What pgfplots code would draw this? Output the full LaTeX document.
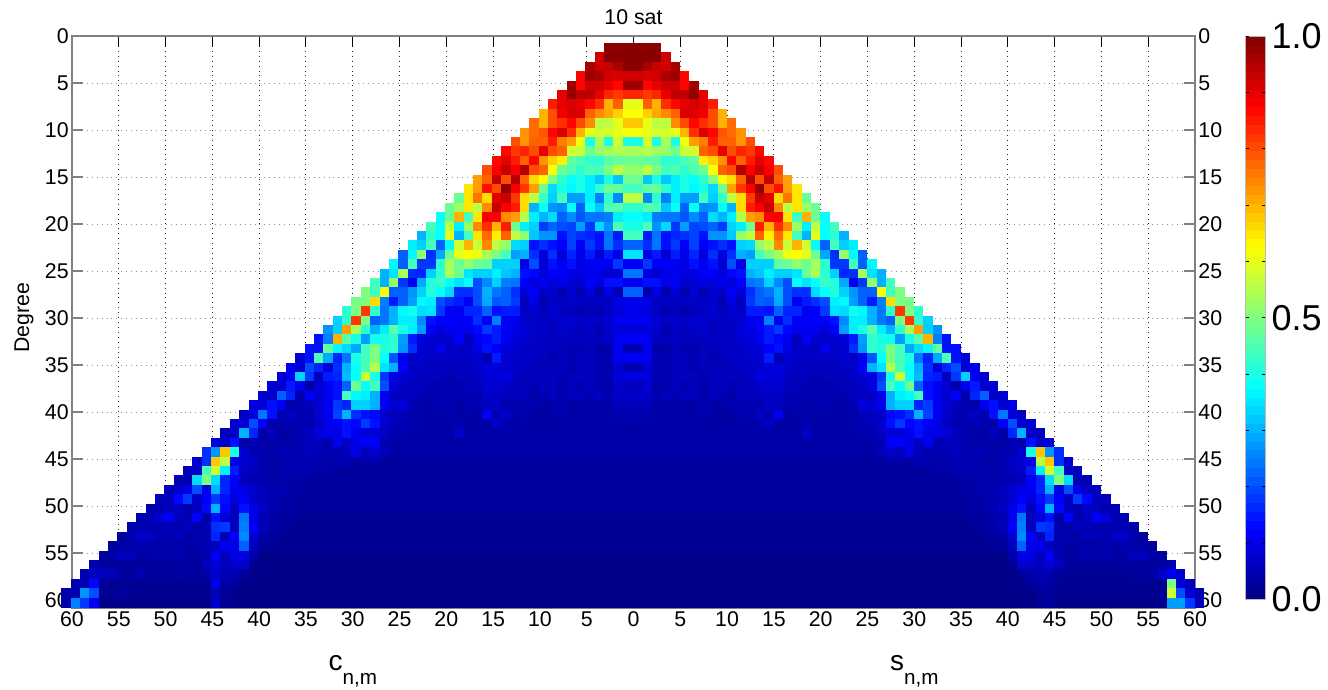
\documentclass[border=0pt]{standalone}
\usepackage{fontspec}
\setmainfont{Liberation Sans}
\usepackage{pgfplots}
\pgfplotsset{compat=1.18}
\newcount\kk
% one row of cells: sign, degree n, values from the outer edge inward (percent of scale), value of the remaining inner cells
\newcommand\onerow[4]{%
  \kk=\numexpr#2+2\relax\ifnum\kk>61 \kk=61 \fi
  \def\rowc{}%
  \pgfplotsforeachungrouped \cv in {#3}{%
    \advance\kk by -1
    \ifnum\kk<0 \else\edef\rowc{\rowc (#1\the\kk.5,#2.25) [\cv]}\fi}%
  \loop\ifnum\kk>0 \advance\kk by -1 \edef\rowc{\rowc (#1\the\kk.5,#2.25) [#4]}\repeat
  \edef\temp{\noexpand\addplot[cellstyle] coordinates {\rowc};}\temp}
\newcommand\R[3]{\onerow{-}{#1}{#2}{#3}\onerow{}{#1}{#2}{#3}}
\pgfplotsset{
  cellstyle/.style={forget plot,scatter,only marks,mark=square*,mark size=3.54pt,
    line width=0.1pt,point meta=explicit,
    scatter/use mapped color={draw=mapped color,fill=mapped color}},
  geom/.style={scale only axis,width=842.25pt,height=429pt,at={(54pt,60.75pt)},anchor=south west,
    xmin=-60,xmax=60,ymin=0,ymax=60.85,y dir=reverse},
}
\begin{document}
\begin{tikzpicture}
\path[use as bounding box] (0,0) rectangle (996pt,516.75pt);
\begin{axis}[geom,clip=false,
  xtick={-60,-55,...,60},
  xticklabels={60,55,50,45,40,35,30,25,20,15,10,5,0,5,10,15,20,25,30,35,40,45,50,55,60},
  ytick={0,5,...,60},
  yticklabels={0,5,10,15,20,25,30,35,40,45,50,55,60},
  tick align=inside,
  major tick length=8.5pt,
  xticklabel pos=lower,
  yticklabel pos=left,
  x tick style={black,line width=.7pt},
  y tick style={gray,line width=1pt},
  axis line style={gray,line width=.9pt},
  xmajorgrids,ymajorgrids,
  x grid style={black!85,line width=.7pt,dash pattern=on .7pt off 3pt},
  y grid style={gray!85,line width=.7pt,dash pattern=on .7pt off 3pt},
  tick label style={font=\fontsize{16}{16}\selectfont},
  xticklabel style={anchor=north,text height=11.5pt,text depth=0pt,yshift=1.5pt},
  yticklabel style={xshift=1pt},
  title={10 sat},
  title style={font=\fontsize{16}{16}\selectfont,at={(0.5,1)},anchor=south,yshift=-1pt},
  ylabel={Degree},
  every axis y label/.style={at={(rel axis cs:0,0.507)},rotate=90,anchor=center,yshift=36pt,font=\fontsize{16}{16}\selectfont},
]
\node[anchor=base west,inner sep=0pt] at (axis cs:-32.6,67.55) {\fontsize{21}{21}\selectfont c\raisebox{-10.5pt}{\fontsize{15.5}{15.5}\selectfont n,m}};
\node[anchor=base west,inner sep=0pt] at (axis cs:27.4,67.55) {\fontsize{21}{21}\selectfont s\raisebox{-10.5pt}{\fontsize{15.5}{15.5}\selectfont n,m}};
\end{axis}
\begin{axis}[geom,clip=false,xtick=\empty,
  ytick={0,5,...,60},
  yticklabels={0,5,10,15,20,25,30,35,40,45,50,55,60},
  yticklabel pos=right,
  major tick length=0pt,
  axis line style={draw=none},
  tick label style={font=\fontsize{16}{16}\selectfont},
  yticklabel style={xshift=-1pt},
]
\end{axis}
\begin{axis}[geom,at={(53.1pt,60.75pt)},clip=false,xtick=\empty,ytick=\empty,
  axis line style={draw=none},
  colormap/jet,point meta min=0,point meta max=100,
  colorbar sampled,
  colorbar style={samples=65,
    at={(parent axis.north east)},anchor=north west,xshift=30.1pt,
    width=15.2pt,height=422.5pt,
    ytick={0,50,100},yticklabels={0.0,0.5,1.0},
    minor ytick={10,20,30,40,60,70,80,90},
    y dir=normal,
    axis line style={draw=gray!55,line width=.7pt},
    tick align=inside,
    major tick length=3pt,minor tick length=3pt,
    every tick/.style={black,line width=.5pt},
    yticklabel style={font=\fontsize{27}{27}\selectfont,xshift=1pt},
  },
]
\R{1}{99,99,99}{99}
\R{2}{92,99,99,99}{99}
\R{3}{96,92,93,96,99}{99}
\R{4}{87,97,96,92,91,92}{92}
\R{5}{97,87,92,92,90,87,97}{97}
\R{6}{90,98,94,94,90,84,82,84}{84}
\R{7}{85,90,91,90,87,83,70,78,60}{60}
\R{8}{70,80,89,91,91,78,74,71,67,62}{62}
\R{9}{77,70,80,83,87,80,74,56,56,60,68}{68}
\R{10}{73,77,79,87,91,83,70,60,58,58,60,62}{62}
\R{11}{80,73,78,78,85,75,72,61,40,54,40,58,40}{40}
\R{12}{87,82,84,80,90,80,78,58,57,48,52,53,55,54}{54}
\R{13}{87,90,85,78,87,73,67,64,47,45,42,42,46,47,48}{48}
\R{14}{80,88,93,88,95,80,78,62,48,45,42,45,44,50,56,52}{52}
\R{15}{72,78,93,80,95,78,66,62,50,42,38,40,36,32,40,32,48}{48}
\R{16}{65,72,86,80,98,88,82,72,48,34,40,37,40,36,42,48,47,44}{44}
\R{17}{48,65,76,66,90,93,82,66,56,43,33,44,28,28,36,25,42,26,56}{56}
\R{18}{48,53,65,56,74,93,88,85,66,30,38,27,26,38,22,38,32,45,46,42}{42}
\R{19}{38,48,70,44,65,88,88,74,72,55,36,30,34,22,26,21,24,24,25,36,38}{38}
\R{20}{44,38,56,36,53,74,83,70,85,48,36,33,18,22,20,19,28,18,34,27,45,40}{40}
\R{21}{30,42,38,60,30,44,65,77,64,78,56,52,32,27,27,14,19,17,16,14,24,15,44}{44}
\R{22}{36,33,44,22,37,58,70,57,74,56,52,34,33,14,17,14,12,19,12,18,14,24,17,22}{22}
\R{23}{22,37,52,17,29,48,60,62,61,54,50,44,28,30,17,9,17,9,16,10,15,8,15,10,35}{35}
\R{24}{37,22,44,18,18,42,54,48,52,48,47,33,33,33,10,20,8,14,11,14,10,11,12,11,18,12}{12}
\R{25}{30,35,54,17,16,33,42,54,48,35,33,33,36,32,30,14,13,9,12,12,10,9,11,10,8,9,24}{24}
\R{26}{44,30,52,18,11,29,41,43,38,35,38,20,26,33,25,24,12,9,11,9,10,8,8,12,10,14,14,11}{11}
\R{27}{50,44,62,22,22,27,33,41,38,34,17,17,20,30,24,22,17,9,12,7,8,5,8,5,9,5,10,5,22}{22}
\R{28}{49,50,66,25,15,22,28,37,36,20,17,15,11,20,29,21,22,18,6,10,5,7,7,7,7,6,7,6,10,10}{10}
\R{29}{42,50,82,42,24,30,37,39,34,35,18,12,11,16,16,22,14,15,15,7,8,6,8,7,6,5,6,5,7,9,11}{11}
\R{30}{33,42,82,50,22,24,30,36,36,26,14,12,12,12,12,17,11,25,11,11,8,7,7,7,7,8,7,7,7,8,11,11}{11}
\R{31}{27,33,72,54,42,30,36,46,40,36,28,12,9,11,11,11,13,18,15,12,10,9,7,7,6,8,7,6,7,5,8,9,9}{9}
\R{32}{14,25,70,46,40,28,39,40,42,28,15,9,8,7,8,12,6,11,13,15,11,9,8,7,6,7,6,6,6,6,6,7,11,12}{12}
\R{33}{14,14,47,37,34,29,44,50,41,42,27,17,8,7,11,7,7,7,10,14,12,9,8,7,7,7,6,6,5,5,6,4,4,11,5}{5}
\R{34}{9,14,45,29,16,24,40,44,50,38,21,11,7,8,7,7,7,7,7,8,5,15,8,7,7,7,6,5,6,5,6,6,5,5,11,12}{12}
\R{35}{11,8,20,16,9,17,30,38,45,55,35,30,12,7,7,6,6,6,6,7,7,9,9,8,7,7,6,6,6,6,5,6,6,5,5,8,5}{5}
\R{36}{8,11,33,18,6,15,16,31,38,57,40,18,10,8,7,6,6,6,5,6,6,7,9,9,10,7,6,6,6,6,5,6,6,6,5,5,9,10}{10}
\R{37}{8,8,15,11,4,8,11,14,22,48,38,44,20,9,7,6,6,5,5,5,5,6,6,8,8,7,6,6,5,6,6,5,6,5,6,5,4,8,6}{6}
\R{38}{8,7,22,16,4,12,8,11,14,44,37,36,30,11,7,6,6,5,5,5,5,5,5,5,7,7,6,6,6,4,5,6,5,6,6,5,6,5,7,7}{7}
\R{39}{10,8,14,11,4,5,6,8,11,18,16,33,33,30,11,8,9,5,4,4,5,5,4,5,5,6,7,5,5,5,5,4,4,5,4,4,4,4,4,6,6}{6}
\R{40}{7,9,24,14,5,7,5,5,8,11,19,30,17,14,13,7,6,6,4,4,4,4,4,4,4,3,11,5,7,4,5,3,3,4,4,4,4,4,4,4,5,5}{5}
\R{41}{8,8,20,12,4,5,5,5,5,7,10,12,14,13,18,14,8,6,5,5,4,4,4,4,5,4,4,4,7,5,4,4,4}{4}
\R{42}{6,7,30,16,4,6,4,4,5,6,9,10,10,14,11,9,9,7,5,5,4,4,4,4,4,7,4}{4}
\R{43}{8,8,14,4,5,4,4,4,4,5,6,6,5,11,7,10,12,12,5,4,4}{4}
\R{44}{17,27,68,40,8,5,5,4,5,5,5,6,5,5,5,6,10,6,8,6,4,4}{4}
\R{45}{8,17,68,56,10,8,7,5,4,4,5,5,5,5,4,5,5,4,4,4}{3}
\R{46}{6,7,44,58,36,15,7,6,5,4,5,5,5,5,4,4}{3}
\R{47}{5,5,34,50,34,16,12,6,5,5,4,4,4,4}{3}
\R{48}{6,7,10,20,10,30,16,11,10,8,6,5,5,4,4}{3}
\R{49}{6,6,13,18,7,12,18,14,9,12,8,6,5,4,4}{3}
\R{50}{5,5,6,7,5,6,13,30,13,6,14,10,7,5,4,4}{3}
\R{51}{5,5,9,12,6,5,12,4,14,9,6,24,10,5,4,3,3}{2}
\R{52}{4,5,5,5,5,5,6,4,5,17,18,6,25,12,6,4,3}{2}
\R{53}{3,5,7,7,5,5,6,4,5,5,16,6,12,26,8,4,3}{2}
\R{54}{3,4,4,5,4,4,4,4,4,4,5,6,11,10,22,6,3}{2}
\R{55}{3,4,6,6,4,4,5,4,5,4,3,5,12,6,10,10,4}{1}
\R{56}{5,3,3,3,3,3,3,3,3,3,3,3,6,9,6,8,8,2}{1}
\onerow{-}{57}{5,6,6,6,3,3,5,3,3,3,4,3,3,4,8,5,5,3}{1}
\onerow{-}{58}{5,5,13,2,2,2,2,2,2,2,2,2,2,2,2,11,4,3}{1}
\onerow{-}{59}{4,5,27,20,2,2,3,2,2,2,2,2,2,2,2,2,5,3}{1}
\onerow{-}{60}{4,25,18,11,1,1,1,1,1,1,1,1,1,1,1,1,8,2}{1}
\onerow{}{57}{8,12,7,3,3,3,2,2,2,2,2,2,2,3,5,5,4,3}{1}
\onerow{}{58}{6,8,50,2,2,2,2,2,2,2,2,2,2,2,2,4,4,3}{1}
\onerow{}{59}{5,8,20,58,2,2,2,2,2,2,2,2,2,2,2,2,3,3}{1}
\onerow{}{60}{6,18,28,28,1,1,1,1,1,1,1,1,1,1,1,1,3,2}{1}
\end{axis}
\end{tikzpicture}
\end{document}
